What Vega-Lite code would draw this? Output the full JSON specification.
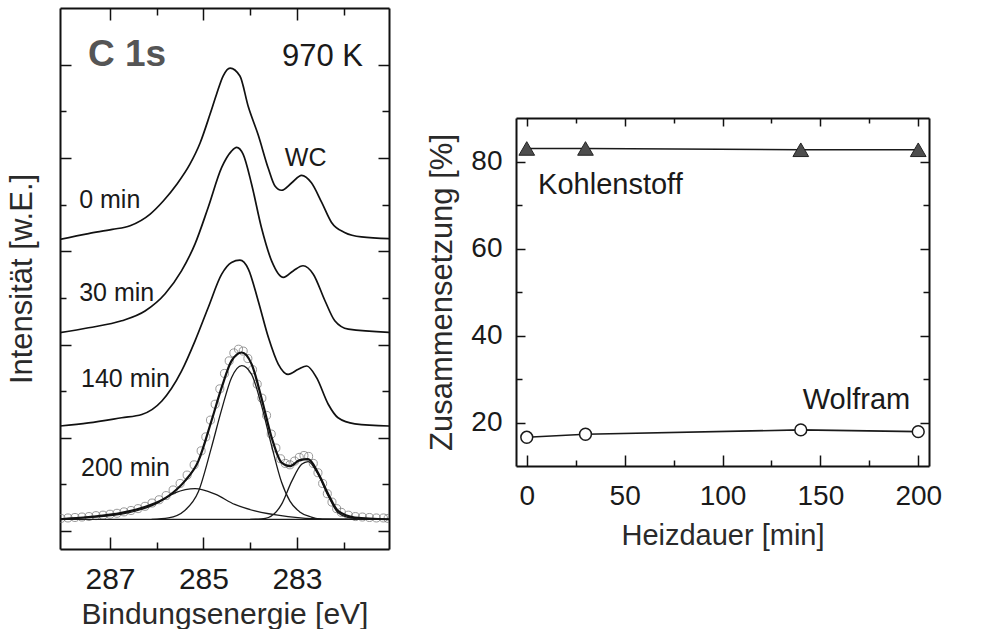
{
  "$schema": "https://vega.github.io/schema/vega-lite/v6.json",
  "padding": {"left": 6, "top": 7, "right": 0, "bottom": 0},
  "config": {
    "font": "Liberation Sans",
    "view": {"stroke": null},
    "axis": {"grid": false, "domainColor": "#111", "domainWidth": 2, "tickColor": "#111", "tickWidth": 1.5, "labelColor": "#1a1a1a", "titleColor": "#2a2a2a", "titleFontWeight": "normal", "labelFont": "Liberation Sans", "titleFont": "Liberation Sans", "zindex": 1, "labelFlush": false, "labelOverlap": false}
  },
  "datasets": {
    "spectra": [
      {"series": "0 min", "E": 288.1, "I": 6.25}, {"series": "0 min", "E": 287.46, "I": 6.38}, {"series": "0 min", "E": 286.95, "I": 6.47}, {"series": "0 min", "E": 286.57, "I": 6.55}, {"series": "0 min", "E": 286.14, "I": 6.80}, {"series": "0 min", "E": 285.86, "I": 7.08}, {"series": "0 min", "E": 285.57, "I": 7.44}, {"series": "0 min", "E": 285.29, "I": 7.87}, {"series": "0 min", "E": 285.07, "I": 8.33}, {"series": "0 min", "E": 284.86, "I": 8.94}, {"series": "0 min", "E": 284.72, "I": 9.37}, {"series": "0 min", "E": 284.58, "I": 9.76}, {"series": "0 min", "E": 284.43, "I": 9.93}, {"series": "0 min", "E": 284.22, "I": 9.76}, {"series": "0 min", "E": 284.04, "I": 9.10}, {"series": "0 min", "E": 283.83, "I": 8.50}, {"series": "0 min", "E": 283.61, "I": 7.77}, {"series": "0 min", "E": 283.47, "I": 7.40}, {"series": "0 min", "E": 283.33, "I": 7.31}, {"series": "0 min", "E": 283.11, "I": 7.47}, {"series": "0 min", "E": 282.90, "I": 7.63}, {"series": "0 min", "E": 282.69, "I": 7.47}, {"series": "0 min", "E": 282.47, "I": 7.05}, {"series": "0 min", "E": 282.26, "I": 6.62}, {"series": "0 min", "E": 281.97, "I": 6.40}, {"series": "0 min", "E": 281.62, "I": 6.31}, {"series": "0 min", "E": 280.95, "I": 6.27},
      {"series": "30 min", "E": 288.1, "I": 4.25}, {"series": "30 min", "E": 287.46, "I": 4.36}, {"series": "30 min", "E": 286.75, "I": 4.51}, {"series": "30 min", "E": 286.25, "I": 4.72}, {"series": "30 min", "E": 285.82, "I": 5.09}, {"series": "30 min", "E": 285.47, "I": 5.58}, {"series": "30 min", "E": 285.18, "I": 6.16}, {"series": "30 min", "E": 284.90, "I": 6.94}, {"series": "30 min", "E": 284.61, "I": 7.80}, {"series": "30 min", "E": 284.40, "I": 8.15}, {"series": "30 min", "E": 284.29, "I": 8.23}, {"series": "30 min", "E": 284.15, "I": 8.08}, {"series": "30 min", "E": 283.97, "I": 7.44}, {"series": "30 min", "E": 283.76, "I": 6.51}, {"series": "30 min", "E": 283.54, "I": 5.79}, {"series": "30 min", "E": 283.29, "I": 5.44}, {"series": "30 min", "E": 283.08, "I": 5.58}, {"series": "30 min", "E": 282.87, "I": 5.69}, {"series": "30 min", "E": 282.65, "I": 5.51}, {"series": "30 min", "E": 282.40, "I": 4.94}, {"series": "30 min", "E": 282.19, "I": 4.51}, {"series": "30 min", "E": 281.90, "I": 4.33}, {"series": "30 min", "E": 280.95, "I": 4.26},
      {"series": "140 min", "E": 288.1, "I": 2.25}, {"series": "140 min", "E": 287.46, "I": 2.32}, {"series": "140 min", "E": 286.75, "I": 2.43}, {"series": "140 min", "E": 286.32, "I": 2.50}, {"series": "140 min", "E": 285.89, "I": 2.79}, {"series": "140 min", "E": 285.47, "I": 3.43}, {"series": "140 min", "E": 285.18, "I": 4.08}, {"series": "140 min", "E": 284.90, "I": 4.79}, {"series": "140 min", "E": 284.61, "I": 5.51}, {"series": "140 min", "E": 284.40, "I": 5.76}, {"series": "140 min", "E": 284.22, "I": 5.81}, {"series": "140 min", "E": 284.04, "I": 5.62}, {"series": "140 min", "E": 283.83, "I": 4.94}, {"series": "140 min", "E": 283.61, "I": 4.15}, {"series": "140 min", "E": 283.40, "I": 3.58}, {"series": "140 min", "E": 283.19, "I": 3.36}, {"series": "140 min", "E": 282.97, "I": 3.47}, {"series": "140 min", "E": 282.79, "I": 3.54}, {"series": "140 min", "E": 282.58, "I": 3.29}, {"series": "140 min", "E": 282.33, "I": 2.72}, {"series": "140 min", "E": 282.12, "I": 2.43}, {"series": "140 min", "E": 281.76, "I": 2.30}, {"series": "140 min", "E": 280.95, "I": 2.25}
    ],
    "fit": [
      {"series": "200 min fit", "E": 288.1, "I": 0.25}, {"series": "200 min fit", "E": 287.46, "I": 0.30}, {"series": "200 min fit", "E": 286.75, "I": 0.39}, {"series": "200 min fit", "E": 286.18, "I": 0.54}, {"series": "200 min fit", "E": 285.75, "I": 0.75}, {"series": "200 min fit", "E": 285.40, "I": 1.07}, {"series": "200 min fit", "E": 285.11, "I": 1.50}, {"series": "200 min fit", "E": 284.83, "I": 2.36}, {"series": "200 min fit", "E": 284.61, "I": 3.08}, {"series": "200 min fit", "E": 284.40, "I": 3.65}, {"series": "200 min fit", "E": 284.18, "I": 3.83}, {"series": "200 min fit", "E": 283.97, "I": 3.58}, {"series": "200 min fit", "E": 283.76, "I": 2.86}, {"series": "200 min fit", "E": 283.54, "I": 2.00}, {"series": "200 min fit", "E": 283.33, "I": 1.47}, {"series": "200 min fit", "E": 283.15, "I": 1.39}, {"series": "200 min fit", "E": 282.94, "I": 1.52}, {"series": "200 min fit", "E": 282.76, "I": 1.54}, {"series": "200 min fit", "E": 282.55, "I": 1.25}, {"series": "200 min fit", "E": 282.33, "I": 0.79}, {"series": "200 min fit", "E": 282.12, "I": 0.43}, {"series": "200 min fit", "E": 281.76, "I": 0.29}, {"series": "200 min fit", "E": 280.95, "I": 0.25}
    ],
    "components": [
      {"series": "Untergrund", "E": 288.1, "I": 0.25}, {"series": "Untergrund", "E": 280.95, "I": 0.25},
      {"series": "Hauptpeak", "E": 286.11, "I": 0.25}, {"series": "Hauptpeak", "E": 285.75, "I": 0.28}, {"series": "Hauptpeak", "E": 285.40, "I": 0.44}, {"series": "Hauptpeak", "E": 285.11, "I": 0.84}, {"series": "Hauptpeak", "E": 284.83, "I": 1.79}, {"series": "Hauptpeak", "E": 284.61, "I": 2.61}, {"series": "Hauptpeak", "E": 284.40, "I": 3.29}, {"series": "Hauptpeak", "E": 284.18, "I": 3.55}, {"series": "Hauptpeak", "E": 283.97, "I": 3.36}, {"series": "Hauptpeak", "E": 283.76, "I": 2.70}, {"series": "Hauptpeak", "E": 283.54, "I": 1.82}, {"series": "Hauptpeak", "E": 283.33, "I": 1.05}, {"series": "Hauptpeak", "E": 283.15, "I": 0.64}, {"series": "Hauptpeak", "E": 282.94, "I": 0.41}, {"series": "Hauptpeak", "E": 282.69, "I": 0.30}, {"series": "Hauptpeak", "E": 282.47, "I": 0.25},
      {"series": "breit", "E": 288.1, "I": 0.26}, {"series": "breit", "E": 287.46, "I": 0.29}, {"series": "breit", "E": 286.75, "I": 0.36}, {"series": "breit", "E": 286.04, "I": 0.57}, {"series": "breit", "E": 285.61, "I": 0.82}, {"series": "breit", "E": 285.18, "I": 0.91}, {"series": "breit", "E": 284.75, "I": 0.79}, {"series": "breit", "E": 284.33, "I": 0.57}, {"series": "breit", "E": 283.90, "I": 0.43}, {"series": "breit", "E": 283.19, "I": 0.31}, {"series": "breit", "E": 282.47, "I": 0.26}, {"series": "breit", "E": 280.95, "I": 0.25},
      {"series": "WC", "E": 284.0, "I": 0.25}, {"series": "WC", "E": 283.76, "I": 0.26}, {"series": "WC", "E": 283.61, "I": 0.29}, {"series": "WC", "E": 283.33, "I": 0.57}, {"series": "WC", "E": 283.11, "I": 1.07}, {"series": "WC", "E": 282.90, "I": 1.43}, {"series": "WC", "E": 282.76, "I": 1.49}, {"series": "WC", "E": 282.55, "I": 1.22}, {"series": "WC", "E": 282.33, "I": 0.75}, {"series": "WC", "E": 282.12, "I": 0.39}, {"series": "WC", "E": 281.90, "I": 0.29}, {"series": "WC", "E": 281.62, "I": 0.25}
    ],
    "pts": [
      {"E": 288.05, "I": 0.27}, {"E": 287.9, "I": 0.28}, {"E": 287.75, "I": 0.29}, {"E": 287.6, "I": 0.30}, {"E": 287.45, "I": 0.31}, {"E": 287.3, "I": 0.33}, {"E": 287.15, "I": 0.34}, {"E": 287.0, "I": 0.36}, {"E": 286.85, "I": 0.38}, {"E": 286.7, "I": 0.41}, {"E": 286.55, "I": 0.44}, {"E": 286.4, "I": 0.48}, {"E": 286.25, "I": 0.53}, {"E": 286.1, "I": 0.60}, {"E": 285.95, "I": 0.67}, {"E": 285.8, "I": 0.76}, {"E": 285.65, "I": 0.88}, {"E": 285.5, "I": 1.02}, {"E": 285.35, "I": 1.20}, {"E": 285.2, "I": 1.42}, {"E": 285.05, "I": 1.72}, {"E": 284.95, "I": 2.02}, {"E": 284.85, "I": 2.38}, {"E": 284.75, "I": 2.72}, {"E": 284.65, "I": 3.05}, {"E": 284.55, "I": 3.38}, {"E": 284.45, "I": 3.65}, {"E": 284.35, "I": 3.82}, {"E": 284.25, "I": 3.90}, {"E": 284.15, "I": 3.86}, {"E": 284.05, "I": 3.70}, {"E": 283.95, "I": 3.46}, {"E": 283.85, "I": 3.15}, {"E": 283.75, "I": 2.85}, {"E": 283.65, "I": 2.48}, {"E": 283.55, "I": 2.08}, {"E": 283.45, "I": 1.78}, {"E": 283.35, "I": 1.55}, {"E": 283.25, "I": 1.45}, {"E": 283.15, "I": 1.42}, {"E": 283.05, "I": 1.50}, {"E": 282.95, "I": 1.58}, {"E": 282.85, "I": 1.62}, {"E": 282.75, "I": 1.60}, {"E": 282.65, "I": 1.45}, {"E": 282.55, "I": 1.25}, {"E": 282.45, "I": 1.02}, {"E": 282.35, "I": 0.80}, {"E": 282.25, "I": 0.62}, {"E": 282.15, "I": 0.48}, {"E": 282.05, "I": 0.40}, {"E": 281.9, "I": 0.34}, {"E": 281.75, "I": 0.31}, {"E": 281.6, "I": 0.30}, {"E": 281.45, "I": 0.29}, {"E": 281.3, "I": 0.28}, {"E": 281.15, "I": 0.28}, {"E": 281.05, "I": 0.27}
    ],
    "annL": [
      {"E": 287.47, "I": 9.98, "label": "C 1s"},
      {"E": 283.32, "I": 9.98, "label": "970 K"},
      {"E": 283.26, "I": 7.83, "label": "WC"},
      {"E": 287.66, "I": 6.93, "label": "0 min"},
      {"E": 287.66, "I": 4.94, "label": "30 min"},
      {"E": 287.62, "I": 3.09, "label": "140 min"},
      {"E": 287.62, "I": 1.18, "label": "200 min"}
    ],
    "comp": [
      {"element": "Kohlenstoff", "t": 0, "val": 83.0}, {"element": "Kohlenstoff", "t": 30, "val": 83.0}, {"element": "Kohlenstoff", "t": 140, "val": 82.7}, {"element": "Kohlenstoff", "t": 200, "val": 82.7},
      {"element": "Wolfram", "t": 0, "val": 16.6}, {"element": "Wolfram", "t": 30, "val": 17.3}, {"element": "Wolfram", "t": 140, "val": 18.3}, {"element": "Wolfram", "t": 200, "val": 17.9}
    ],
    "annR": [
      {"t": 5.8, "val": 72.5, "label": "Kohlenstoff"},
      {"t": 141, "val": 23.1, "label": "Wolfram"}
    ]
  },
  "spacing": 36,
  "hconcat": [
    {
      "width": 329,
      "height": 541,
      "layer": [
        {
          "data": {"name": "pts"},
          "mark": {"type": "point", "shape": "circle", "filled": false, "size": 65, "stroke": "#6f6f6f", "strokeWidth": 1, "clip": true},
          "encoding": {
            "x": {"field": "E", "type": "quantitative", "scale": {"domain": [281.03, 288.07], "reverse": true, "nice": false, "zero": false},
                  "axis": {"orient": "top", "values": [282, 283, 284, 285, 286, 287], "labels": false, "title": null, "tickSize": {"condition": {"test": "datum.value % 2 == 1", "value": -12}, "value": -7}}},
            "y": {"field": "I", "type": "quantitative", "scale": {"domain": [-0.386, 11.22], "nice": false, "zero": false},
                  "axis": {"orient": "right", "values": [0, 1, 2, 3, 4, 5, 6, 7, 8, 9, 10], "labels": false, "title": null, "tickSize": {"condition": {"test": "datum.value % 2 == 0", "value": -11}, "value": -7}}}
          }
        },
        {
          "data": {"name": "components"},
          "mark": {"type": "line", "interpolate": "monotone", "color": "#1a1a1a", "strokeWidth": 1.3, "clip": true},
          "encoding": {
            "x": {"field": "E", "type": "quantitative", "scale": {"domain": [281.03, 288.07], "reverse": true, "nice": false, "zero": false}, "axis": null},
            "y": {"field": "I", "type": "quantitative", "scale": {"domain": [-0.386, 11.22], "nice": false, "zero": false}, "axis": null},
            "detail": {"field": "series"}
          }
        },
        {
          "data": {"name": "fit"},
          "mark": {"type": "line", "interpolate": "monotone", "color": "#111", "strokeWidth": 2.2, "clip": true},
          "encoding": {
            "x": {"field": "E", "type": "quantitative", "scale": {"domain": [281.03, 288.07], "reverse": true, "nice": false, "zero": false}, "axis": null},
            "y": {"field": "I", "type": "quantitative", "scale": {"domain": [-0.386, 11.22], "nice": false, "zero": false}, "axis": null}
          }
        },
        {
          "data": {"name": "spectra"},
          "mark": {"type": "line", "interpolate": "monotone", "color": "#111", "strokeWidth": 1.7, "clip": true},
          "encoding": {
            "x": {"field": "E", "type": "quantitative", "scale": {"domain": [281.03, 288.07], "reverse": true, "nice": false, "zero": false},
                  "axis": {"orient": "bottom", "values": [282, 283, 284, 285, 286, 287], "labelExpr": "datum.value % 2 == 1 ? datum.label : ''", "tickSize": {"condition": {"test": "datum.value % 2 == 1", "value": -12}, "value": -7}, "title": "Bindungsenergie [eV]", "labelFontSize": 30, "titleFontSize": 30, "labelPadding": 27, "titlePadding": 0}},
            "y": {"field": "I", "type": "quantitative", "scale": {"domain": [-0.386, 11.22], "nice": false, "zero": false},
                  "axis": {"orient": "left", "values": [0, 1, 2, 3, 4, 5, 6, 7, 8, 9, 10], "labels": false, "tickSize": {"condition": {"test": "datum.value % 2 == 0", "value": -11}, "value": -6}, "title": "Intensität [w.E.]", "titleFontSize": 31, "titlePadding": 21}},
            "detail": {"field": "series"}
          }
        },
        {
          "data": {"name": "annL"},
          "transform": [{"filter": "datum.label === 'C 1s'"}],
          "mark": {"type": "text", "align": "left", "baseline": "alphabetic", "fontSize": 37, "fontWeight": "bold", "color": "#555"},
          "encoding": {
            "x": {"field": "E", "type": "quantitative", "scale": {"domain": [281.03, 288.07], "reverse": true, "nice": false, "zero": false}, "axis": null},
            "y": {"field": "I", "type": "quantitative", "scale": {"domain": [-0.386, 11.22], "nice": false, "zero": false}, "axis": null},
            "text": {"field": "label"}
          }
        },
        {
          "data": {"name": "annL"},
          "transform": [{"filter": "datum.label === '970 K'"}],
          "mark": {"type": "text", "align": "left", "baseline": "alphabetic", "fontSize": 31, "color": "#1a1a1a"},
          "encoding": {
            "x": {"field": "E", "type": "quantitative", "scale": {"domain": [281.03, 288.07], "reverse": true, "nice": false, "zero": false}, "axis": null},
            "y": {"field": "I", "type": "quantitative", "scale": {"domain": [-0.386, 11.22], "nice": false, "zero": false}, "axis": null},
            "text": {"field": "label"}
          }
        },
        {
          "data": {"name": "annL"},
          "transform": [{"filter": "datum.label !== 'C 1s' && datum.label !== '970 K'"}],
          "mark": {"type": "text", "align": "left", "baseline": "alphabetic", "fontSize": 25, "color": "#1a1a1a"},
          "encoding": {
            "x": {"field": "E", "type": "quantitative", "scale": {"domain": [281.03, 288.07], "reverse": true, "nice": false, "zero": false}, "axis": null},
            "y": {"field": "I", "type": "quantitative", "scale": {"domain": [-0.386, 11.22], "nice": false, "zero": false}, "axis": null},
            "text": {"field": "label"}
          }
        }
      ]
    },
    {
      "spacing": 0,
      "vconcat": [
        {"width": 10, "height": 109, "data": {"values": []}, "mark": "point"},
        {
          "width": 413,
          "height": 348,
          "layer": [
            {
              "data": {"name": "comp"},
              "mark": {"type": "line", "color": "#1a1a1a", "strokeWidth": 1.6},
              "encoding": {
                "x": {"field": "t", "type": "quantitative", "scale": {"domain": [-5.5, 205.5], "nice": false, "zero": false},
                      "axis": {"orient": "bottom", "values": [0, 25, 50, 75, 100, 125, 150, 175, 200], "labelExpr": "datum.value % 50 == 0 ? datum.label : ''", "tickSize": {"condition": {"test": "datum.value % 50 == 0", "value": -11}, "value": -6}, "title": "Heizdauer [min]", "labelFontSize": 28, "titleFontSize": 29, "labelPadding": 27, "titlePadding": 6}},
                "y": {"field": "val", "type": "quantitative", "scale": {"domain": [10, 90], "nice": false, "zero": false},
                      "axis": {"orient": "left", "values": [20, 30, 40, 50, 60, 70, 80], "labelExpr": "datum.value % 20 == 0 ? datum.label : ''", "tickSize": {"condition": {"test": "datum.value % 20 == 0", "value": -9}, "value": -6}, "title": "Zusammensetzung [%]", "labelFontSize": 28, "titleFontSize": 31, "labelPadding": 23, "titlePadding": 12}},
                "detail": {"field": "element"}
              }
            },
            {
              "data": {"name": "comp"},
              "transform": [{"filter": "datum.element === 'Kohlenstoff'"}],
              "mark": {"type": "point", "shape": "triangle-up", "filled": true, "size": 246, "fill": "#4d4d4d", "stroke": "#222", "strokeWidth": 1, "opacity": 1},
              "encoding": {
                "x": {"field": "t", "type": "quantitative", "scale": {"domain": [-5.5, 205.5], "nice": false, "zero": false},
                      "axis": {"orient": "top", "values": [0, 25, 50, 75, 100, 125, 150, 175, 200], "labels": false, "title": null, "tickSize": {"condition": {"test": "datum.value % 50 == 0", "value": -8}, "value": -5}}},
                "y": {"field": "val", "type": "quantitative", "scale": {"domain": [10, 90], "nice": false, "zero": false},
                      "axis": {"orient": "right", "values": [20, 30, 40, 50, 60, 70, 80], "labels": false, "title": null, "tickSize": {"condition": {"test": "datum.value % 20 == 0", "value": -9}, "value": -6}}}
              }
            },
            {
              "data": {"name": "comp"},
              "transform": [{"filter": "datum.element === 'Wolfram'"}],
              "mark": {"type": "point", "shape": "circle", "filled": true, "size": 140, "fill": "white", "stroke": "#1a1a1a", "strokeWidth": 1.5, "opacity": 1},
              "encoding": {
                "x": {"field": "t", "type": "quantitative", "scale": {"domain": [-5.5, 205.5], "nice": false, "zero": false}, "axis": null},
                "y": {"field": "val", "type": "quantitative", "scale": {"domain": [10, 90], "nice": false, "zero": false}, "axis": null}
              }
            },
            {
              "data": {"name": "annR"},
              "mark": {"type": "text", "align": "left", "baseline": "alphabetic", "fontSize": 29, "color": "#1a1a1a"},
              "encoding": {
                "x": {"field": "t", "type": "quantitative", "scale": {"domain": [-5.5, 205.5], "nice": false, "zero": false}, "axis": null},
                "y": {"field": "val", "type": "quantitative", "scale": {"domain": [10, 90], "nice": false, "zero": false}, "axis": null},
                "text": {"field": "label"}
              }
            }
          ]
        }
      ]
    }
  ]
}
